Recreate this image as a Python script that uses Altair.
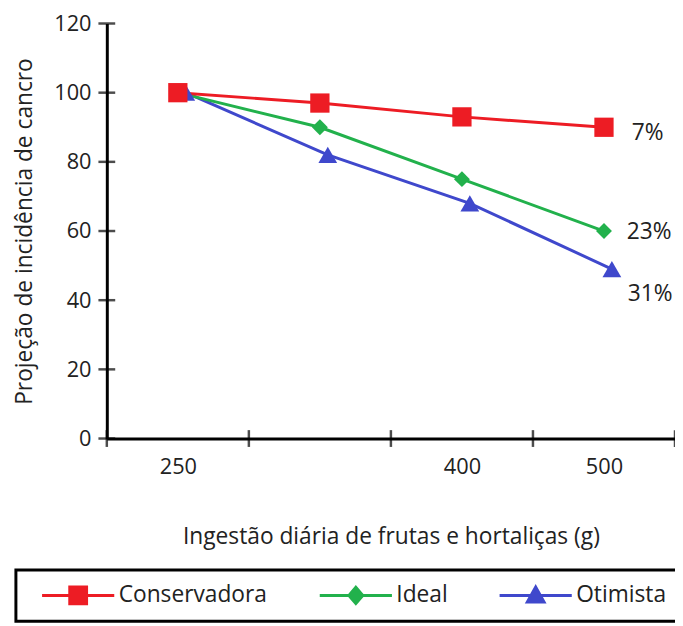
import json
import altair as alt
import pandas as pd

# ---- data ----
intake_labels = ["250", "", "400", "500"]
series_names = ["Conservadora", "Ideal", "Otimista"]
conservadora = [100, 97, 93, 90]
ideal = [100, 90, 75, 60]
otimista = [100, 82, 68, 49]
end_labels = ["7%", "23%", "31%"]
y_ticks = [0, 20, 40, 60, 80, 100, 120]

# ---- style ----
colors = ["#ED1C24", "#22B14C", "#3F48CC"]
shapes = ["square", "diamond", "triangle-up"]
sizes = [380, 260, 360]
x_offsets = [0, 0, 8]
label_dx = [28, 23, 24]
label_dy = [6, 1, 25]
# legend symbols: line + marker, drawn to the right of the symbol origin (r = 11 px)
SH = 1.09  # extra shift to the right (in r units)


def _p(path_tpl):
    return path_tpl.format(
        a=-1 + SH, b=5.64 + SH, s0=1.41 + SH, s1=3.23 + SH,
        d0=1.5 + SH, dc=2.32 + SH, d1=3.14 + SH, t0=1.32 + SH, t1=3.32 + SH,
    )


legend_paths = [
    _p("M{a},-0.14H{b}V0.14H{a}Z M{s0},-0.9H{s1}V0.9H{s0}Z"),
    _p("M{a},-0.14H{b}V0.14H{a}Z M{dc},-0.95L{d1},0L{dc},0.95L{d0},0Z"),
    _p("M{a},-0.14H{b}V0.14H{a}Z M{dc},-1.05L{t1},0.75H{t0}Z"),
]
W, H = 575, 420
FONT = "Open Sans"
TEXT = "#222222"

rows = []
for name, vals in zip(series_names, [conservadora, ideal, otimista]):
    for i, v in enumerate(vals):
        rows.append({"serie": name, "idx": i, "valor": v})
df = pd.DataFrame(rows)

label_expr = json.dumps(intake_labels) + "[datum.value]"

x_scale = alt.Scale(domain=[-0.5, len(intake_labels) - 0.5], nice=False, zero=False)
y_scale = alt.Scale(domain=[0, 120], nice=False)

x_enc = alt.X(
    "idx:Q",
    scale=x_scale,
    axis=alt.Axis(
        values=list(range(len(intake_labels))),
        labelExpr=label_expr,
        title="Ingestão diária de frutas e hortaliças (g)",
        ticks=False,
        grid=False,
        domainWidth=3,
        domainColor="black",
        labelPadding=18,
        titlePadding=49,
        labelFontSize=22,
    ),
)
y_enc = alt.Y(
    "valor:Q",
    scale=y_scale,
    axis=alt.Axis(
        values=y_ticks,
        title="Projeção de incidência de cancro",
        ticks=False,
        grid=False,
        domainWidth=3,
        domainColor="black",
        labelPadding=16,
        titlePadding=17,
        labelFontSize=22,
    ),
)

layers = []

# crossing tick marks on the axes
ytick_df = pd.DataFrame({"valor": y_ticks})
layers.append(
    alt.Chart(ytick_df)
    .mark_tick(orient="horizontal", size=17, thickness=2.5, color="black")
    .encode(y=y_enc, x=alt.value(0))
)
xtick_df = pd.DataFrame({"idx": [i - 0.5 for i in range(len(intake_labels) + 1)]})
layers.append(
    alt.Chart(xtick_df)
    .mark_tick(orient="vertical", size=17, thickness=2.5, color="black")
    .encode(x=x_enc, y=alt.value(H))
)

# series (drawn so that Conservadora ends on top)
order = [2, 1, 0]
for k in order:
    name = series_names[k]
    sub = alt.Chart(df).transform_filter(alt.datum.serie == name)
    layers.append(
        sub.mark_line(color=colors[k], strokeWidth=3, xOffset=x_offsets[k]).encode(
            x=x_enc, y=y_enc
        )
    )
for k in order:
    name = series_names[k]
    sub = alt.Chart(df).transform_filter(alt.datum.serie == name)
    layers.append(
        sub.mark_point(
            shape=shapes[k],
            filled=True,
            opacity=1,
            size=sizes[k],
            color=colors[k],
            xOffset=x_offsets[k],
        ).encode(x=x_enc, y=y_enc)
    )

# end labels
for k, vals in enumerate([conservadora, ideal, otimista]):
    tdf = pd.DataFrame(
        {"idx": [len(vals) - 1], "valor": [vals[-1]], "t": [end_labels[k]]}
    )
    layers.append(
        alt.Chart(tdf)
        .mark_text(
            align="left",
            baseline="middle",
            dx=label_dx[k],
            dy=label_dy[k],
            font=FONT,
            fontSize=23,
            color=TEXT,
        )
        .encode(x=x_enc, y=y_enc, text="t:N")
    )

# legend-only layer (no marks drawn)
legend_props = dict(
    title=None,
    orient="none",
    legendX=-92,
    legendY=553,
    direction="horizontal",
    labelFont=FONT,
    labelFontSize=23,
    labelColor=TEXT,
    symbolSize=484,
    symbolStrokeWidth=0,
    symbolOpacity=1,
    strokeColor="black",
    padding=14,
    columnPadding=40,
    labelOffset=67,
)
layers.append(
    alt.Chart(df)
    .transform_filter("false")
    .mark_point(filled=True, opacity=1)
    .encode(
        x=x_enc,
        y=y_enc,
        color=alt.Color(
            "serie:N",
            scale=alt.Scale(domain=series_names, range=colors),
            legend=alt.Legend(**legend_props),
        ),
        shape=alt.Shape(
            "serie:N",
            scale=alt.Scale(domain=series_names, range=legend_paths),
            legend=alt.Legend(**legend_props),
        ),
    )
)

chart = (
    alt.layer(*layers)
    .properties(
        width=W,
        height=H,
        autosize=alt.AutoSizeParams(type="none"),
        padding={"left": 100, "top": 12, "right": 0, "bottom": 184},
    )
    .configure_view(stroke=None)
    .configure_axis(
        labelFont=FONT,
        labelColor=TEXT,
        titleFont=FONT,
        titleFontSize=23,
        titleColor=TEXT,
        titleFontWeight="normal",
    )
    .configure_legend(strokeWidth=3)
)

chart.save("out.html", embed_options={"renderer": "svg", "actions": False})
